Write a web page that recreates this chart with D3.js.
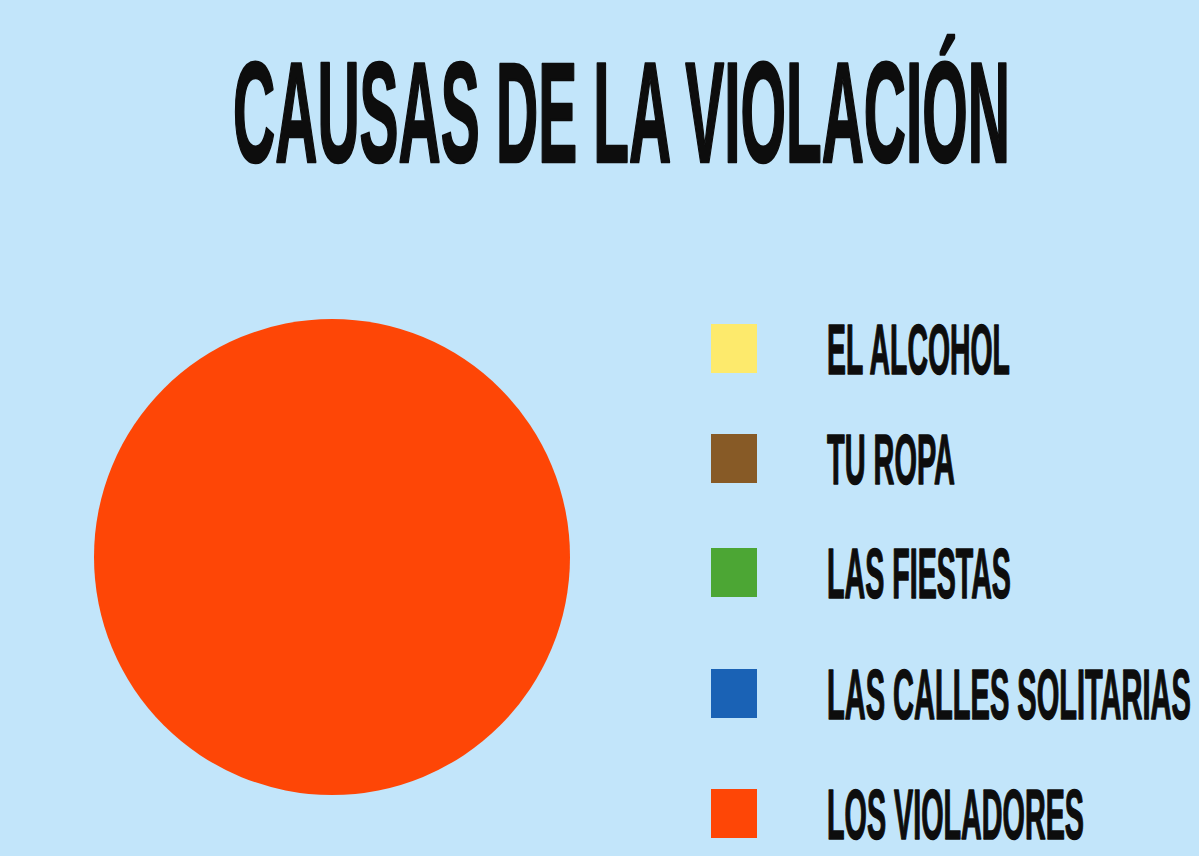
<!DOCTYPE html>
<html>
<head>
<meta charset="utf-8">
<script src="https://cdn.jsdelivr.net/npm/d3@7"></script>
<style>
  html, body { margin: 0; padding: 0; background: #c2e5fa; }
  svg { display: block; }
</style>
</head>
<body>
<svg id="chart" width="1199" height="856"></svg>
<script>
// ---- data ----
const title = "CAUSAS DE LA VIOLACIÓN";
const categories = ["EL ALCOHOL", "TU ROPA", "LAS FIESTAS", "LAS CALLES SOLITARIAS", "LOS VIOLADORES"];
const values = [0, 0, 0, 0, 100];
const colors = ["#fdea6c", "#875a26", "#4ca634", "#1a62b5", "#fe4606"];

// ---- layout ----
const W = 1199, H = 856;
const FONT = "'Liberation Sans Narrow', 'Liberation Sans', sans-serif";
const svg = d3.select("#chart");
svg.append("rect").attr("width", W).attr("height", H).attr("fill", "#c2e5fa");

const color = d3.scaleOrdinal().domain(categories).range(colors);

// Draws a condensed text: horizontal size chosen so width = targetW,
// then squeezed vertically so the glyph height matches fontSize.
function condensedText(parent, str, x, y, targetW, fontSize, strokeW) {
  const g = parent.append("g");
  const t = g.append("text")
    .attr("font-family", FONT)
    .attr("font-weight", "bold")
    .attr("font-size", fontSize)
    .attr("fill", "#0d0d0d")
    .attr("stroke", "#0d0d0d")
    .attr("stroke-width", strokeW)
    .attr("vector-effect", "non-scaling-stroke")
    .attr("stroke-linejoin", "round")
    .text(str);
  const w = t.node().getComputedTextLength();
  const k = targetW / w;            // horizontal scale < 1
  const fs = fontSize * k;
  t.attr("font-size", fs);
  g.attr("transform", `translate(${x},${y}) scale(1,${1 / k})`);
  return g;
}

// title
condensedText(svg, title, 233, 162, 777, 143, 2);

// pie
const cx = 332, cy = 557, R = 238;
const pie = d3.pie().sort(null).value(d => d.v);
const arc = d3.arc().innerRadius(0).outerRadius(R);
const data = categories.map((c, i) => ({ c, v: values[i] }));
svg.append("g").attr("transform", `translate(${cx},${cy})`)
  .selectAll("path")
  .data(pie(data))
  .join("path")
  .attr("d", arc)
  .attr("fill", d => color(d.data.c));

// legend
const rowTop = d3.scaleOrdinal().domain(categories).range([324, 434, 548, 669, 789]);
const labelWidths = d3.scaleOrdinal().domain(categories).range([183, 128, 184, 364, 257]);
const lg = svg.append("g");
categories.forEach(c => {
  const y0 = rowTop(c);
  lg.append("rect")
    .attr("x", 711).attr("y", y0)
    .attr("width", 46).attr("height", 49)
    .attr("fill", color(c));
  condensedText(lg, c, 827, y0 + 50, labelWidths(c), 70, 1.2);
});
</script>
</body>
</html>
